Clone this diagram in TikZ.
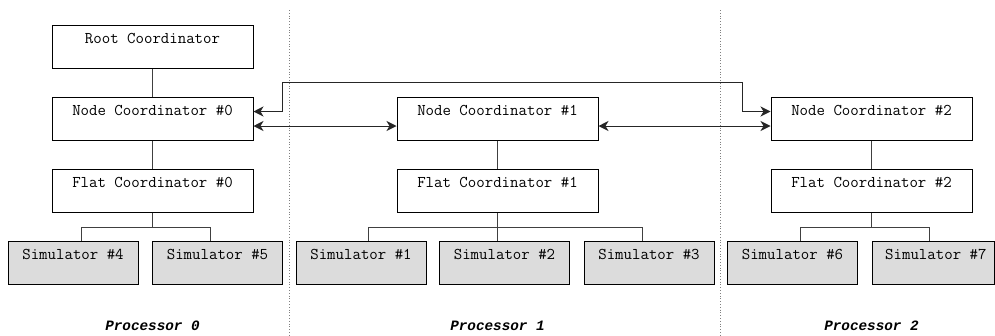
\documentclass[tikz,border=0pt]{standalone}
\usepackage{fontspec}
\newfontfamily\captionmono{Liberation Mono}
\usetikzlibrary{arrows.meta,calc}
\definecolor{simfill}{HTML}{DCDCDC}
\definecolor{wire}{HTML}{404040}
\tikzset{
  boxfont/.style={font=\ttfamily\fontsize{16.4}{19}\selectfont},
  coord/.style={boxfont, draw=black, line width=1pt, fill=white, inner sep=0pt,
    minimum width=201pt, text height=18.6pt, text depth=24.4pt},
  sim/.style={coord, fill=simfill, minimum width=130pt},
  link/.style={draw=wire, line width=1pt},
  msg/.style={draw=black!85, line width=1pt,
    {Stealth[length=10pt,width=10pt,inset=3pt]}-{Stealth[length=10pt,width=10pt,inset=3pt]}},
  divider/.style={draw=gray, dotted, line width=0.8pt},
  proc/.style={font=\captionmono\bfseries\itshape\fontsize{14.3}{17}\selectfont, anchor=base, inner sep=0pt}
}
\begin{document}
\begin{tikzpicture}[x=1pt,y=-1pt]
\useasboundingbox (0,0) rectangle (995,335);

% processor separators
\coordinate (d1top) at (289.5,10);
\coordinate (d1bot) at (289.5,335);
\coordinate (d2top) at (720.5,10);
\coordinate (d2bot) at (720.5,335);
\draw[divider] (d1top) -- (d1bot);
\draw[divider] (d2top) -- (d2bot);

% processor 0
\node[coord] (root)  at (152.5,46.5)  {Root Coordinator};
\node[coord] (node0) at (152.5,118.5) {Node Coordinator \#0};
\node[coord] (flat0) at (152.5,190.5) {Flat Coordinator \#0};
\node[sim]   (sim4)  at (73,262.5)    {Simulator \#4};
\node[sim]   (sim5)  at (217.5,262.5) {Simulator \#5};

% processor 1
\node[coord] (node1) at (497.5,118.5) {Node Coordinator \#1};
\node[coord] (flat1) at (497.5,190.5) {Flat Coordinator \#1};
\node[sim]   (sim1)  at (361,262.5)   {Simulator \#1};
\node[sim]   (sim2)  at (504.5,262.5) {Simulator \#2};
\node[sim]   (sim3)  at (649,262.5)   {Simulator \#3};

% processor 2
\node[coord] (node2) at (871.5,118.5) {Node Coordinator \#2};
\node[coord] (flat2) at (871.5,190.5) {Flat Coordinator \#2};
\node[sim]   (sim6)  at (792.5,262.5) {Simulator \#6};
\node[sim, minimum width=122pt] (sim7) at (933,262.5) {};
\node[boxfont, inner sep=0pt, anchor=base west] (sim7label) at (885,259.7) {Simulator \#7};

% hierarchy links
\draw[link] (root) -- (node0);
\draw[link] (node0) -- (flat0);
\draw[link] (node1) -- (flat1);
\draw[link] (node2) -- (flat2);

\coordinate (b4) at (81,227);
\coordinate (b5) at (210,227);
\draw[link] (flat0.south) -- (flat0.south |- b4);
\draw[link] (b4 |- sim4.north) -- (b4) -- (b5) -- (b5 |- sim5.north);

\coordinate (b1) at (368,227);
\coordinate (b3) at (642,227);
\draw[link] (flat1.south) -- (flat1.south |- sim2.north);
\draw[link] (b1 |- sim1.north) -- (b1) -- (b3) -- (b3 |- sim3.north);

\coordinate (b6) at (800,227);
\coordinate (b7) at (929,227);
\draw[link] (flat2.south) -- (flat2.south |- b6);
\draw[link] (b6 |- sim6.north) -- (b6) -- (b7) -- (b7 |- sim7.north);

% messages between node coordinators
\draw[msg] ([yshift=-7.5pt]node0.east) -- ([yshift=-7.5pt]node1.west);
\draw[msg] ([yshift=-7.5pt]node1.east) -- ([yshift=-7.5pt]node2.west);
\coordinate (up0) at (282,82);
\coordinate (up2) at (742,82);
\draw[msg] ([yshift=7pt]node0.east) -| (up0) -- (up2) |- ([yshift=7pt]node2.west);

% processor captions
\node[proc] (p0) at (152.5,330.7) {Processor 0};
\node[proc] (p1) at (497.5,330.7) {Processor 1};
\node[proc] (p2) at (871.5,330.7) {Processor 2};
\end{tikzpicture}
\end{document}
